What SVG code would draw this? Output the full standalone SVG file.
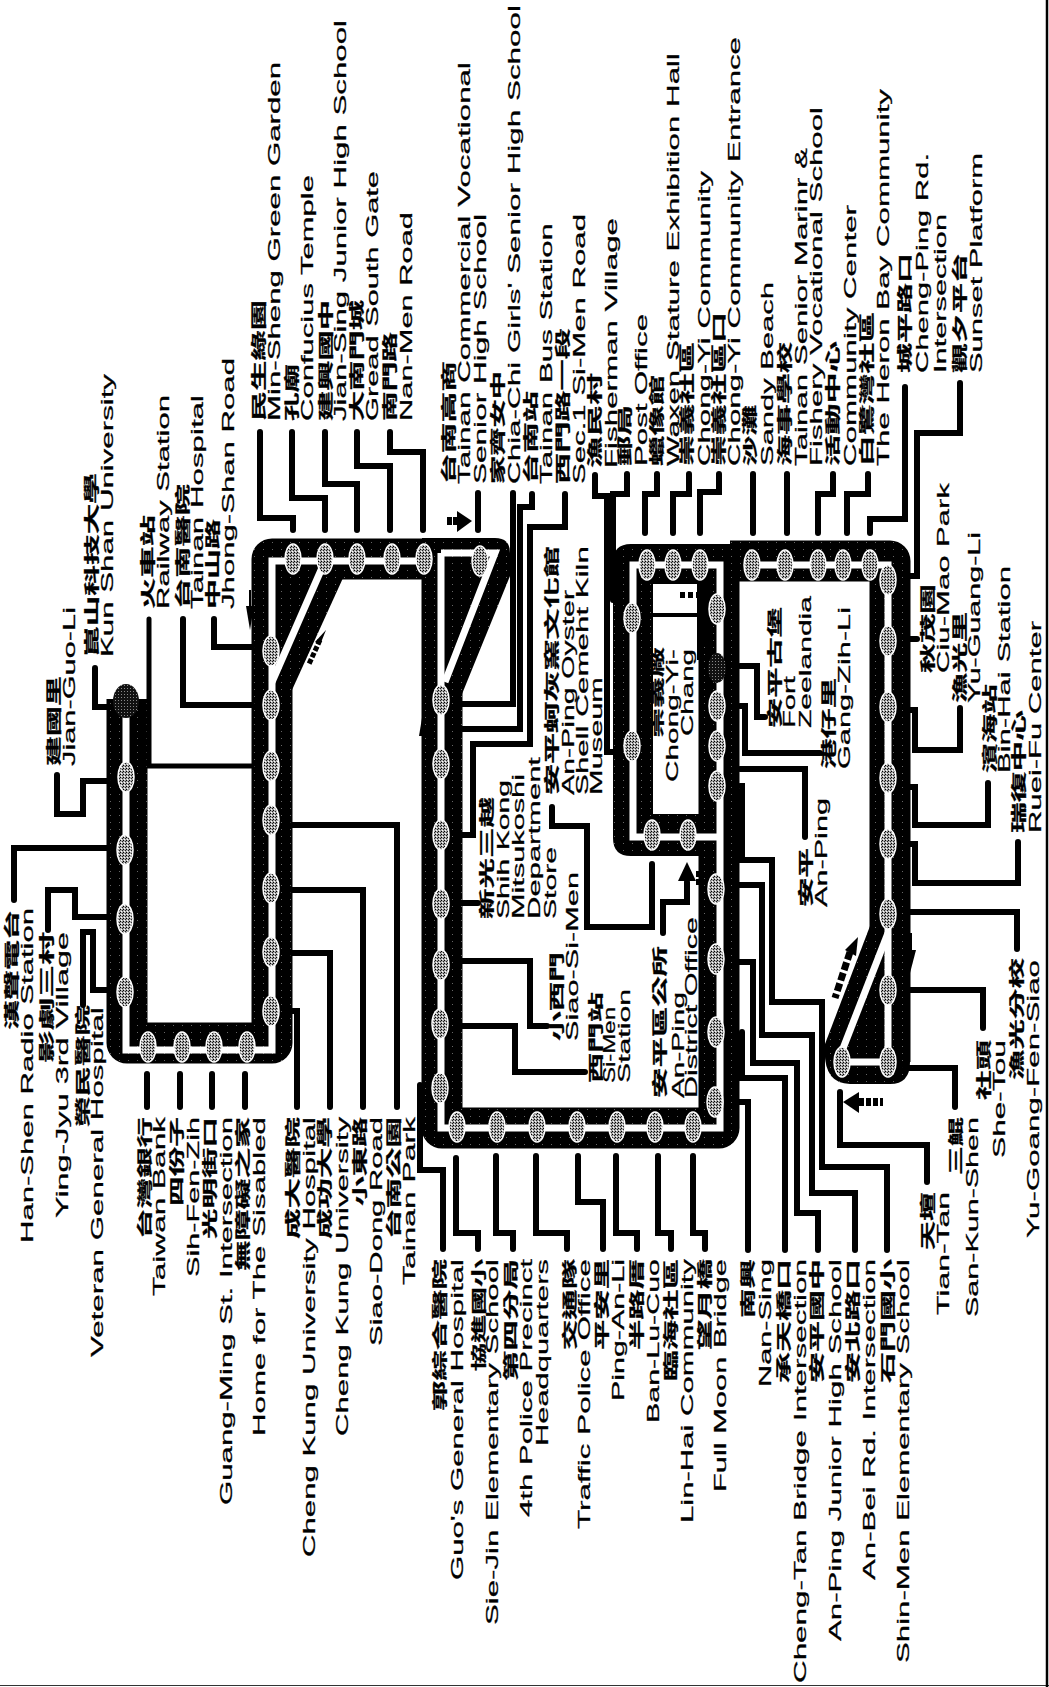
<svg xmlns="http://www.w3.org/2000/svg" width="1049" height="1687" viewBox="0 0 1049 1687">
<style>
text{fill:#000;stroke:#000;stroke-width:.25}
.e{font-family:"Liberation Sans",Arial,sans-serif;font-size:17px}
.c{font-family:"Noto Sans CJK TC","Noto Sans CJK SC",sans-serif;font-size:15px;font-weight:700}
.b{fill:none;stroke:url(#band);stroke-width:41;stroke-linejoin:round}
.f{fill:url(#band)}
.w{fill:none;stroke:#fff;stroke-width:7;stroke-linejoin:miter}
.k{fill:none;stroke:#000;stroke-width:6;stroke-linecap:round;stroke-linejoin:miter}
.t{stroke-width:5}
.s{fill:url(#stip);stroke:#fff;stroke-width:1.5}
.d{fill:url(#dark)}
</style>
<defs>
<pattern id="band" width="9" height="7" patternUnits="userSpaceOnUse"><rect width="9" height="7" fill="#000"/><rect x="2" y="3" width="1" height="1" fill="#666"/></pattern>
<pattern id="stip" width="3" height="3" patternUnits="userSpaceOnUse"><rect width="3" height="3" fill="#aaa"/><rect width="1" height="1" fill="#000"/><rect x="2" y="1" width="1" height="1" fill="#222"/><rect x="1" y="2" width="1" height="1" fill="#fff"/></pattern>
<pattern id="dark" width="3" height="3" patternUnits="userSpaceOnUse"><rect width="3" height="3" fill="#111"/><rect x="1" y="1" width="1" height="1" fill="#888"/></pattern>
</defs>
<g id="frame"><path d="M0,1685.5H1049" stroke="#333" stroke-width="1" fill="none"/><path d="M1047,0V1687" stroke="#000" stroke-width="2.5" fill="none"/></g>

<g id="network">
<path class="b" d="M127,699V1043H272V559H440"/>
<path class="f" d="M272,558H343V578L292,690H272Z"/>
<path class="f" d="M422,538H495Q510,538 510,553V576L462,694H422Z"/>
<path class="b" d="M442,559V1128H719V560"/>
<path class="f" fill-rule="evenodd" d="M631,544H738V856H631Q613,856 613,838V562Q613,544 631,544ZM653,584V814H700V584Z"/>
<path class="b" d="M730,561H890V1062"/>
<path class="f" d="M870,926L825,1044Q822,1084 850,1084H890Q910,1084 910,1062V926Z"/>
</g>
<g id="routes">
<path class="w" d="M126,710V1050H272V561H420"/>
<path class="w" d="M325,561L272,682"/>
<path class="w" d="M441,553V1128H720V565H633V837H720"/>
<path class="w" d="M441,553H495L445,682"/>
<path class="w" d="M745,565H888V1062H842"/>
<path class="w" d="M888,933L842,1051"/>
</g>
<g id="chong-yi-inset"><path d="M653,615H697" stroke="#000" stroke-width="4"/><path d="M697,584H706V640L700,660H697Z" fill="#000"/><path d="M680,592h5v6h-5zM688,592h5v6h-5zM696,592h5v6h-5z" fill="#000"/></g>

<g id="connectors">
<path class="k" d="M57,775V814H83V781H108"/>
<path class="k" d="M95,668V707H108"/>
<path class="k" d="M14,900V848H110"/>
<path class="k" d="M48,930V890H75V917H110"/>
<path class="k" d="M83,1005V932H93V990H108"/>
<path class="k t" d="M149,619V766H252"/>
<path class="k" d="M183,619V705H252"/>
<path class="k" d="M214,619V647H252"/>
<path class="k" d="M260,432V518H293V530"/>
<path class="k" d="M292,432V498H325V530"/>
<path class="k" d="M325,432V484H357V530"/>
<path class="k" d="M357,432V466H390V530"/>
<path class="k" d="M390,432V452H423V530"/>
<path class="k" d="M478,493V530"/>
<path class="k" d="M513,493V704H462"/>
<path class="k" d="M532,494V507H520V729H462"/>
<path class="k" d="M565,494V527H530V744H473V835H462"/>
<path class="k" d="M595,475V496H607V752H613"/>
<path class="k" d="M627,474V494H613V600"/>
<path class="k" d="M657,474V494H645V533"/>
<path class="k" d="M689,474V494H673V533"/>
<path class="k" d="M719,474V492H700V533"/>
<path class="k" d="M753,474V533"/>
<path class="k" d="M787,474V533"/>
<path class="k" d="M833,474V494H818V533"/>
<path class="k" d="M868,474V494H847V533"/>
<path class="k" d="M905,387V519H870V533"/>
<path class="k" d="M960,383V433H917V576H910"/>
<path class="k" d="M910,639H917"/>
<path class="k" d="M960,708V750H915V710H910"/>
<path class="k" d="M988,783V825H915V787H910"/>
<path class="k" d="M1018,842V883H915V844H910"/>
<path class="k" d="M1017,949V912H910"/>
<path class="k" d="M983,1028V990H910"/>
<path class="k" d="M955,1107V1068H905"/>
<path class="k" d="M927,1182V1145H840V1092"/>
<path class="k" d="M740,786H742V860H772V1002H822V1167H887V1250"/>
<path class="k" d="M738,885H762V1035H812V1193H855V1250"/>
<path class="k" d="M738,962H753V1063H797V1213H818V1250"/>
<path class="k" d="M742,1032V1078H785V1250"/>
<path class="k" d="M738,1102H748V1250"/>
<path class="k" d="M740,666H757V717H765"/>
<path class="k" d="M740,706H745V753H820"/>
<path class="k" d="M740,769H805V837"/>
<path class="k" d="M693,1156V1233H705V1249"/>
<path class="k" d="M658,1156V1233H671V1249"/>
<path class="k" d="M616,1156V1233H637V1249"/>
<path class="k" d="M578,1156V1202H603V1249"/>
<path class="k" d="M536,1156V1233H567V1249"/>
<path class="k" d="M496,1156V1233H513V1249"/>
<path class="k" d="M456,1158V1233H478V1249"/>
<path class="k" d="M420,1085V1170H443V1249"/>
<path class="k" d="M292,825H397V1107"/>
<path class="k" d="M292,890H363V1107"/>
<path class="k" d="M292,953H330V1107"/>
<path class="k" d="M292,1011H297V1107"/>
<path class="k" d="M147,1074V1107"/>
<path class="k" d="M180,1074V1107"/>
<path class="k" d="M212,1074V1107"/>
<path class="k" d="M245,1074V1107"/>
<path class="k" d="M462,903H478"/>
<path class="k" d="M552,807V826H587V927H652V864"/>
<path class="k" d="M462,961H530V1026H547"/>
<path class="k" d="M462,1026H515V1072H585"/>
<path class="k" d="M663,933V902H687V882"/>
</g>

<g id="direction-arrows">
<path d="M457,511L472,521L457,532Z" fill="#000"/><path d="M447,517h5v8h-5zM453,517h5v8h-5z" fill="#000"/>
<path d="M326,630L315,642L320,645Z" fill="#000"/><path d="M320,640L309,664" stroke="#000" stroke-width="5" stroke-dasharray="5 2" fill="none"/>
<path d="M250,630L246,606L254,606Z" fill="#000"/><path d="M250,590V610" stroke="#000" stroke-width="2"/>
<path d="M423,712L419,736H427Z" fill="#000"/><path d="M423,730V770" stroke="#000" stroke-width="2"/>
<path d="M687,862L678,881H696Z" fill="#000"/><path d="M698,871v6M698,879v6" stroke="#000" stroke-width="4"/>
<path d="M858,937L845,950L856,956Z" fill="#000"/><path d="M850,952L835,998" stroke="#000" stroke-width="7" stroke-dasharray="8 3" fill="none"/>
<path d="M843,1102L859,1092V1113Z" fill="#000"/><path d="M859,1102H883" stroke="#000" stroke-width="8" stroke-dasharray="5 2" fill="none"/>
<path d="M910,973L906,950H916Z" fill="#000"/><path d="M911,933V955" stroke="#000" stroke-width="2"/>
</g>

<g id="stops-loop1">
<ellipse class="d" cx="126" cy="701" rx="13" ry="17"/>
<ellipse class="s" cx="126" cy="777" rx="8" ry="15"/><ellipse class="s" cx="125" cy="850" rx="8" ry="15"/><ellipse class="s" cx="125" cy="919" rx="8" ry="15"/><ellipse class="s" cx="125" cy="992" rx="8" ry="15"/>
<ellipse class="s" cx="148" cy="1047" rx="8" ry="15"/><ellipse class="s" cx="182" cy="1047" rx="8" ry="15"/><ellipse class="s" cx="214" cy="1047" rx="8" ry="15"/><ellipse class="s" cx="247" cy="1047" rx="8" ry="15"/>
<ellipse class="s" cx="271" cy="1011" rx="8" ry="15"/><ellipse class="s" cx="271" cy="952" rx="8" ry="15"/><ellipse class="s" cx="271" cy="888" rx="8" ry="15"/><ellipse class="s" cx="271" cy="820" rx="8" ry="15"/><ellipse class="s" cx="271" cy="766" rx="8" ry="15"/><ellipse class="s" cx="271" cy="705" rx="8" ry="15"/><ellipse class="s" cx="271" cy="651" rx="8" ry="15"/>
<ellipse class="s" cx="293" cy="559" rx="8" ry="15"/><ellipse class="s" cx="325" cy="559" rx="8" ry="15"/><ellipse class="s" cx="357" cy="559" rx="8" ry="15"/><ellipse class="s" cx="392" cy="559" rx="8" ry="15"/><ellipse class="s" cx="424" cy="559" rx="8" ry="15"/>
</g>
<g id="stops-loop2">
<ellipse class="s" cx="480" cy="561" rx="8" ry="15"/>
<ellipse class="s" cx="441" cy="700" rx="8" ry="15"/><ellipse class="s" cx="441" cy="764" rx="8" ry="15"/><ellipse class="s" cx="441" cy="835" rx="8" ry="15"/><ellipse class="s" cx="441" cy="904" rx="8" ry="15"/><ellipse class="s" cx="441" cy="965" rx="8" ry="15"/><ellipse class="s" cx="440" cy="1024" rx="8" ry="15"/><ellipse class="s" cx="440" cy="1088" rx="8" ry="15"/>
<ellipse class="s" cx="457" cy="1127" rx="8" ry="15"/><ellipse class="s" cx="497" cy="1127" rx="8" ry="15"/><ellipse class="s" cx="537" cy="1127" rx="8" ry="15"/><ellipse class="s" cx="577" cy="1127" rx="8" ry="15"/><ellipse class="s" cx="617" cy="1127" rx="8" ry="15"/><ellipse class="s" cx="655" cy="1127" rx="8" ry="15"/><ellipse class="s" cx="693" cy="1127" rx="8" ry="15"/>
<ellipse class="s" cx="715" cy="1102" rx="8" ry="15"/><ellipse class="s" cx="716" cy="1032" rx="8" ry="15"/><ellipse class="s" cx="716" cy="959" rx="8" ry="15"/><ellipse class="s" cx="716" cy="889" rx="8" ry="15"/>
</g>
<g id="stops-chong-yi">
<ellipse class="s" cx="632" cy="618" rx="8" ry="15"/><ellipse class="s" cx="632" cy="746" rx="8" ry="15"/>
<ellipse class="s" cx="647" cy="565" rx="8" ry="15"/><ellipse class="s" cx="673" cy="565" rx="8" ry="15"/><ellipse class="s" cx="700" cy="565" rx="8" ry="15"/>
<ellipse class="s" cx="652" cy="835" rx="8" ry="15"/><ellipse class="s" cx="688" cy="835" rx="8" ry="15"/>
<ellipse class="s" cx="717" cy="609" rx="8" ry="15"/><ellipse class="d" cx="717" cy="668" rx="9" ry="15"/><ellipse class="s" cx="717" cy="706" rx="8" ry="15"/><ellipse class="s" cx="717" cy="746" rx="8" ry="15"/><ellipse class="s" cx="717" cy="786" rx="8" ry="15"/>
</g>
<g id="stops-an-ping">
<ellipse class="s" cx="752" cy="565" rx="8" ry="15"/><ellipse class="s" cx="785" cy="565" rx="8" ry="15"/><ellipse class="s" cx="818" cy="565" rx="8" ry="15"/><ellipse class="s" cx="843" cy="565" rx="8" ry="15"/><ellipse class="s" cx="870" cy="565" rx="8" ry="15"/>
<ellipse class="s" cx="888" cy="580" rx="8" ry="15"/><ellipse class="s" cx="888" cy="641" rx="8" ry="15"/><ellipse class="s" cx="888" cy="707" rx="8" ry="15"/><ellipse class="s" cx="888" cy="778" rx="8" ry="15"/><ellipse class="s" cx="888" cy="844" rx="8" ry="15"/><ellipse class="s" cx="888" cy="914" rx="8" ry="15"/><ellipse class="s" cx="888" cy="990" rx="8" ry="15"/><ellipse class="s" cx="888" cy="1062" rx="8" ry="15"/><ellipse class="s" cx="842" cy="1062" rx="8" ry="15"/>
</g>

<g id="labels-top">
<text class="c" transform="translate(264 421) rotate(-90)" textLength="121" lengthAdjust="spacingAndGlyphs">民生綠園</text>
<text class="e" transform="translate(280 421) rotate(-90)" textLength="359" lengthAdjust="spacingAndGlyphs">Min-Sheng Green Garden</text>
<text class="c" transform="translate(297 421) rotate(-90)" textLength="57" lengthAdjust="spacingAndGlyphs">孔廟</text>
<text class="e" transform="translate(313 421) rotate(-90)" textLength="246" lengthAdjust="spacingAndGlyphs">Confucius Temple</text>
<text class="c" transform="translate(331 421) rotate(-90)" textLength="121" lengthAdjust="spacingAndGlyphs">建興國中</text>
<text class="e" transform="translate(346 421) rotate(-90)" textLength="401" lengthAdjust="spacingAndGlyphs">Jian-Sing Junior High School</text>
<text class="c" transform="translate(362 421) rotate(-90)" textLength="121" lengthAdjust="spacingAndGlyphs">大南門城</text>
<text class="e" transform="translate(378 421) rotate(-90)" textLength="250" lengthAdjust="spacingAndGlyphs">Gread South Gate</text>
<text class="c" transform="translate(395 421) rotate(-90)" textLength="89" lengthAdjust="spacingAndGlyphs">南門路</text>
<text class="e" transform="translate(412 421) rotate(-90)" textLength="209" lengthAdjust="spacingAndGlyphs">Nan-Men Road</text>
<text class="c" transform="translate(454 484) rotate(-90)" textLength="123" lengthAdjust="spacingAndGlyphs">台南高商</text>
<text class="e" transform="translate(470 484) rotate(-90)" textLength="422" lengthAdjust="spacingAndGlyphs">Tainan Commercial Vocational</text>
<text class="e" transform="translate(486 484) rotate(-90)" textLength="270" lengthAdjust="spacingAndGlyphs">Senior High School</text>
<text class="c" transform="translate(503 484) rotate(-90)" textLength="113" lengthAdjust="spacingAndGlyphs">家齊女中</text>
<text class="e" transform="translate(520 484) rotate(-90)" textLength="479" lengthAdjust="spacingAndGlyphs">Chia-Chi Girls' Senior High School</text>
<text class="c" transform="translate(536 484) rotate(-90)" textLength="93" lengthAdjust="spacingAndGlyphs">台南站</text>
<text class="e" transform="translate(552 484) rotate(-90)" textLength="261" lengthAdjust="spacingAndGlyphs">Tainan Bus Station</text>
<text class="c" transform="translate(568 484) rotate(-90)" textLength="156" lengthAdjust="spacingAndGlyphs">西門路一段</text>
<text class="e" transform="translate(585 484) rotate(-90)" textLength="270" lengthAdjust="spacingAndGlyphs">Sec.1 Si-Men Road</text>
<text class="c" transform="translate(600 468) rotate(-90)" textLength="95" lengthAdjust="spacingAndGlyphs">漁民村</text>
<text class="e" transform="translate(617 468) rotate(-90)" textLength="250" lengthAdjust="spacingAndGlyphs">Fisherman Village</text>
<text class="c" transform="translate(630 466) rotate(-90)" textLength="61" lengthAdjust="spacingAndGlyphs">郵局</text>
<text class="e" transform="translate(647 466) rotate(-90)" textLength="152" lengthAdjust="spacingAndGlyphs">Post Office</text>
<text class="c" transform="translate(662 466) rotate(-90)" textLength="91" lengthAdjust="spacingAndGlyphs">蠟像館</text>
<text class="e" transform="translate(679 466) rotate(-90)" textLength="413" lengthAdjust="spacingAndGlyphs">Waxen Stature Exhibition Hall</text>
<text class="c" transform="translate(692 466) rotate(-90)" textLength="124" lengthAdjust="spacingAndGlyphs">崇義社區</text>
<text class="e" transform="translate(710 466) rotate(-90)" textLength="295" lengthAdjust="spacingAndGlyphs">Chong-Yi Community</text>
<text class="c" transform="translate(724 466) rotate(-90)" textLength="154" lengthAdjust="spacingAndGlyphs">崇義社區口</text>
<text class="e" transform="translate(740 466) rotate(-90)" textLength="429" lengthAdjust="spacingAndGlyphs">Chong-Yi Community Entrance</text>
<text class="c" transform="translate(755 466) rotate(-90)" textLength="61" lengthAdjust="spacingAndGlyphs">沙灘</text>
<text class="e" transform="translate(773 466) rotate(-90)" textLength="184" lengthAdjust="spacingAndGlyphs">Sandy Beach</text>
<text class="c" transform="translate(790 466) rotate(-90)" textLength="124" lengthAdjust="spacingAndGlyphs">海事學校</text>
<text class="e" transform="translate(807 466) rotate(-90)" textLength="318" lengthAdjust="spacingAndGlyphs">Tainan Senior Marinr &amp;</text>
<text class="e" transform="translate(822 466) rotate(-90)" textLength="359" lengthAdjust="spacingAndGlyphs">Fishery Vocational School</text>
<text class="c" transform="translate(838 466) rotate(-90)" textLength="125" lengthAdjust="spacingAndGlyphs">活動中心</text>
<text class="e" transform="translate(856 466) rotate(-90)" textLength="261" lengthAdjust="spacingAndGlyphs">Community Center</text>
<text class="c" transform="translate(872 466) rotate(-90)" textLength="154" lengthAdjust="spacingAndGlyphs">白鷺灣社區</text>
<text class="e" transform="translate(889 466) rotate(-90)" textLength="377" lengthAdjust="spacingAndGlyphs">The Heron Bay Community</text>
<text class="c" transform="translate(910 373) rotate(-90)" textLength="120" lengthAdjust="spacingAndGlyphs">城平路口</text>
<text class="e" transform="translate(928 373) rotate(-90)" textLength="220" lengthAdjust="spacingAndGlyphs">Cheng-Ping Rd.</text>
<text class="e" transform="translate(946 373) rotate(-90)" textLength="159" lengthAdjust="spacingAndGlyphs">Intersection</text>
<text class="c" transform="translate(965 373) rotate(-90)" textLength="120" lengthAdjust="spacingAndGlyphs">觀夕平台</text>
<text class="e" transform="translate(982 373) rotate(-90)" textLength="220" lengthAdjust="spacingAndGlyphs">Sunset Platform</text>
</g>
<g id="labels-upper-left">
<text class="c" transform="translate(153 609) rotate(-90)" textLength="94" lengthAdjust="spacingAndGlyphs">火車站</text>
<text class="e" transform="translate(169 609) rotate(-90)" textLength="214" lengthAdjust="spacingAndGlyphs">Railway Station</text>
<text class="c" transform="translate(188 609) rotate(-90)" textLength="125" lengthAdjust="spacingAndGlyphs">台南醫院</text>
<text class="e" transform="translate(203 609) rotate(-90)" textLength="214" lengthAdjust="spacingAndGlyphs">Tainan Hospital</text>
<text class="c" transform="translate(218 609) rotate(-90)" textLength="90" lengthAdjust="spacingAndGlyphs">中山路</text>
<text class="e" transform="translate(234 609) rotate(-90)" textLength="251" lengthAdjust="spacingAndGlyphs">Jhong-Shan Road</text>
<text class="c" transform="translate(97 657) rotate(-90)" textLength="184" lengthAdjust="spacingAndGlyphs">崑山科技大學</text>
<text class="e" transform="translate(113 657) rotate(-90)" textLength="283" lengthAdjust="spacingAndGlyphs">Kun Shan University</text>
<text class="c" transform="translate(59 766) rotate(-90)" textLength="90" lengthAdjust="spacingAndGlyphs">建國里</text>
<text class="e" transform="translate(75 766) rotate(-90)" textLength="159" lengthAdjust="spacingAndGlyphs">Jian-Guo-Li</text>
<text class="c" transform="translate(17 1030) rotate(-90)" textLength="120" lengthAdjust="spacingAndGlyphs">漢聲電台</text>
<text class="e" transform="translate(33 1243) rotate(-90)" textLength="335" lengthAdjust="spacingAndGlyphs">Han-Shen Radio Station</text>
<text class="c" transform="translate(52 1063) rotate(-90)" textLength="131" lengthAdjust="spacingAndGlyphs">影劇三村</text>
<text class="e" transform="translate(68 1218) rotate(-90)" textLength="286" lengthAdjust="spacingAndGlyphs">Ying-Jyu 3rd Village</text>
<text class="c" transform="translate(88 1127) rotate(-90)" textLength="122" lengthAdjust="spacingAndGlyphs">榮民醫院</text>
<text class="e" transform="translate(103 1357) rotate(-90)" textLength="350" lengthAdjust="spacingAndGlyphs">Veteran General Hospital</text>
</g>
<g id="labels-bottom">
<text class="c" transform="translate(150 1239) rotate(-90)" textLength="122" lengthAdjust="spacingAndGlyphs">台灣銀行</text>
<text class="e" transform="translate(165 1296) rotate(-90)" textLength="179" lengthAdjust="spacingAndGlyphs">Taiwan Bank</text>
<text class="c" transform="translate(182 1206) rotate(-90)" textLength="89" lengthAdjust="spacingAndGlyphs">四份子</text>
<text class="e" transform="translate(199 1277) rotate(-90)" textLength="160" lengthAdjust="spacingAndGlyphs">Sih-Fen-Zih</text>
<text class="c" transform="translate(215 1239) rotate(-90)" textLength="122" lengthAdjust="spacingAndGlyphs">光明街口</text>
<text class="e" transform="translate(232 1505) rotate(-90)" textLength="388" lengthAdjust="spacingAndGlyphs">Guang-Ming St. Intersection</text>
<text class="c" transform="translate(248 1271) rotate(-90)" textLength="154" lengthAdjust="spacingAndGlyphs">無障礙之家</text>
<text class="e" transform="translate(265 1436) rotate(-90)" textLength="319" lengthAdjust="spacingAndGlyphs">Home for The Sisabled</text>
<text class="c" transform="translate(298 1239) rotate(-90)" textLength="122" lengthAdjust="spacingAndGlyphs">成大醫院</text>
<text class="e" transform="translate(315 1557) rotate(-90)" textLength="440" lengthAdjust="spacingAndGlyphs">Cheng Kung University Hospital</text>
<text class="c" transform="translate(330 1239) rotate(-90)" textLength="122" lengthAdjust="spacingAndGlyphs">成功大學</text>
<text class="e" transform="translate(348 1436) rotate(-90)" textLength="319" lengthAdjust="spacingAndGlyphs">Cheng Kung University</text>
<text class="c" transform="translate(365 1206) rotate(-90)" textLength="89" lengthAdjust="spacingAndGlyphs">小東路</text>
<text class="e" transform="translate(382 1346) rotate(-90)" textLength="229" lengthAdjust="spacingAndGlyphs">Siao-Dong Road</text>
<text class="c" transform="translate(399 1239) rotate(-90)" textLength="122" lengthAdjust="spacingAndGlyphs">台南公園</text>
<text class="e" transform="translate(415 1285) rotate(-90)" textLength="168" lengthAdjust="spacingAndGlyphs">Tainan Park</text>
<text class="c" transform="translate(445 1411) rotate(-90)" textLength="152" lengthAdjust="spacingAndGlyphs">郭綜合醫院</text>
<text class="e" transform="translate(463 1580) rotate(-90)" textLength="321" lengthAdjust="spacingAndGlyphs">Guo's General Hospital</text>
<text class="c" transform="translate(484 1371) rotate(-90)" textLength="112" lengthAdjust="spacingAndGlyphs">協進國小</text>
<text class="e" transform="translate(498 1625) rotate(-90)" textLength="366" lengthAdjust="spacingAndGlyphs">Sie-Jin Elementary School</text>
<text class="c" transform="translate(516 1381) rotate(-90)" textLength="122" lengthAdjust="spacingAndGlyphs">第四分局</text>
<text class="e" transform="translate(532 1517) rotate(-90)" textLength="258" lengthAdjust="spacingAndGlyphs">4th Police Precinct</text>
<text class="e" transform="translate(548 1446) rotate(-90)" textLength="187" lengthAdjust="spacingAndGlyphs">Headquarters</text>
<text class="c" transform="translate(575 1350) rotate(-90)" textLength="91" lengthAdjust="spacingAndGlyphs">交通隊</text>
<text class="e" transform="translate(590 1529) rotate(-90)" textLength="270" lengthAdjust="spacingAndGlyphs">Traffic Police Office</text>
<text class="c" transform="translate(607 1350) rotate(-90)" textLength="91" lengthAdjust="spacingAndGlyphs">平安里</text>
<text class="e" transform="translate(624 1401) rotate(-90)" textLength="142" lengthAdjust="spacingAndGlyphs">Ping-An-Li</text>
<text class="c" transform="translate(642 1350) rotate(-90)" textLength="91" lengthAdjust="spacingAndGlyphs">半路厝</text>
<text class="e" transform="translate(659 1423) rotate(-90)" textLength="164" lengthAdjust="spacingAndGlyphs">Ban-Lu-Cuo</text>
<text class="c" transform="translate(676 1381) rotate(-90)" textLength="122" lengthAdjust="spacingAndGlyphs">臨海社區</text>
<text class="e" transform="translate(693 1523) rotate(-90)" textLength="264" lengthAdjust="spacingAndGlyphs">Lin-Hai Community</text>
<text class="c" transform="translate(710 1350) rotate(-90)" textLength="91" lengthAdjust="spacingAndGlyphs">望月橋</text>
<text class="e" transform="translate(726 1492) rotate(-90)" textLength="233" lengthAdjust="spacingAndGlyphs">Full Moon Bridge</text>
<text class="c" transform="translate(753 1318) rotate(-90)" textLength="59" lengthAdjust="spacingAndGlyphs">南興</text>
<text class="e" transform="translate(771 1387) rotate(-90)" textLength="128" lengthAdjust="spacingAndGlyphs">Nan-Sing</text>
<text class="c" transform="translate(789 1383) rotate(-90)" textLength="124" lengthAdjust="spacingAndGlyphs">承天橋口</text>
<text class="e" transform="translate(806 1683) rotate(-90)" textLength="424" lengthAdjust="spacingAndGlyphs">Cheng-Tan Bridge Intersection</text>
<text class="c" transform="translate(822 1383) rotate(-90)" textLength="124" lengthAdjust="spacingAndGlyphs">安平國中</text>
<text class="e" transform="translate(841 1641) rotate(-90)" textLength="382" lengthAdjust="spacingAndGlyphs">An-Ping Junior High School</text>
<text class="c" transform="translate(858 1383) rotate(-90)" textLength="124" lengthAdjust="spacingAndGlyphs">安北路口</text>
<text class="e" transform="translate(875 1580) rotate(-90)" textLength="321" lengthAdjust="spacingAndGlyphs">An-Bei Rd. Intersection</text>
<text class="c" transform="translate(893 1383) rotate(-90)" textLength="124" lengthAdjust="spacingAndGlyphs">石門國小</text>
<text class="e" transform="translate(909 1663) rotate(-90)" textLength="404" lengthAdjust="spacingAndGlyphs">Shin-Men Elementary School</text>
<text class="c" transform="translate(933 1250) rotate(-90)" textLength="58" lengthAdjust="spacingAndGlyphs">天壇</text>
<text class="e" transform="translate(949 1315) rotate(-90)" textLength="123" lengthAdjust="spacingAndGlyphs">Tian-Tan</text>
<text class="c" transform="translate(961 1175) rotate(-90)" textLength="58" lengthAdjust="spacingAndGlyphs">三鯤</text>
<text class="e" transform="translate(978 1317) rotate(-90)" textLength="200" lengthAdjust="spacingAndGlyphs">San-Kun-Shen</text>
<text class="c" transform="translate(989 1100) rotate(-90)" textLength="60" lengthAdjust="spacingAndGlyphs">社頭</text>
<text class="e" transform="translate(1005 1158) rotate(-90)" textLength="118" lengthAdjust="spacingAndGlyphs">She-Tou</text>
<text class="c" transform="translate(1022 1080) rotate(-90)" textLength="122" lengthAdjust="spacingAndGlyphs">漁光分校</text>
<text class="e" transform="translate(1039 1238) rotate(-90)" textLength="278" lengthAdjust="spacingAndGlyphs">Yu-Goang-Fen-Siao</text>
</g>
<g id="labels-east">
<text class="c" transform="translate(933 673) rotate(-90)" textLength="89" lengthAdjust="spacingAndGlyphs">秋茂園</text>
<text class="e" transform="translate(949 673) rotate(-90)" textLength="190" lengthAdjust="spacingAndGlyphs">Ciu-Mao Park</text>
<text class="c" transform="translate(965 703) rotate(-90)" textLength="91" lengthAdjust="spacingAndGlyphs">漁光里</text>
<text class="e" transform="translate(980 703) rotate(-90)" textLength="171" lengthAdjust="spacingAndGlyphs">Yu-Guang-Li</text>
<text class="c" transform="translate(995 773) rotate(-90)" textLength="89" lengthAdjust="spacingAndGlyphs">濱海站</text>
<text class="e" transform="translate(1010 773) rotate(-90)" textLength="207" lengthAdjust="spacingAndGlyphs">Bin-Hai Station</text>
<text class="c" transform="translate(1024 833) rotate(-90)" textLength="123" lengthAdjust="spacingAndGlyphs">瑞復中心</text>
<text class="e" transform="translate(1041 833) rotate(-90)" textLength="212" lengthAdjust="spacingAndGlyphs">Ruei-Fu Center</text>
</g>
<g id="labels-inner">
<text class="c" transform="translate(780 728) rotate(-90)" textLength="121" lengthAdjust="spacingAndGlyphs">安平古堡</text>
<text class="e" transform="translate(795 728) rotate(-90)" textLength="52" lengthAdjust="spacingAndGlyphs">Fort</text>
<text class="e" transform="translate(811 728) rotate(-90)" textLength="132" lengthAdjust="spacingAndGlyphs">Zeelandia</text>
<text class="c" transform="translate(834 769) rotate(-90)" textLength="91" lengthAdjust="spacingAndGlyphs">港仔里</text>
<text class="e" transform="translate(850 769) rotate(-90)" textLength="162" lengthAdjust="spacingAndGlyphs">Gang-Zih-Li</text>
<text class="c" transform="translate(811 907) rotate(-90)" textLength="59" lengthAdjust="spacingAndGlyphs">安平</text>
<text class="e" transform="translate(827 907) rotate(-90)" textLength="109" lengthAdjust="spacingAndGlyphs">An-Ping</text>
<text class="c" transform="translate(557 795) rotate(-90)" textLength="249" lengthAdjust="spacingAndGlyphs">安平蚵灰窯文化館</text>
<text class="e" transform="translate(574 795) rotate(-90)" textLength="205" lengthAdjust="spacingAndGlyphs">An-Ping Oyster</text>
<text class="e" transform="translate(588 795) rotate(-90)" textLength="249" lengthAdjust="spacingAndGlyphs">Shell Cemeht Kiln</text>
<text class="e" transform="translate(602 795) rotate(-90)" textLength="118" lengthAdjust="spacingAndGlyphs">Museum</text>
<text class="c" transform="translate(492 919) rotate(-90)" textLength="122" lengthAdjust="spacingAndGlyphs">新光三越</text>
<text class="e" transform="translate(509 919) rotate(-90)" textLength="139" lengthAdjust="spacingAndGlyphs">Shih Kong</text>
<text class="e" transform="translate(524 919) rotate(-90)" textLength="145" lengthAdjust="spacingAndGlyphs">Mitsukoshi</text>
<text class="e" transform="translate(540 919) rotate(-90)" textLength="162" lengthAdjust="spacingAndGlyphs">Department</text>
<text class="e" transform="translate(556 919) rotate(-90)" textLength="72" lengthAdjust="spacingAndGlyphs">Store</text>
<text class="c" transform="translate(562 1041) rotate(-90)" textLength="89" lengthAdjust="spacingAndGlyphs">小西門</text>
<text class="e" transform="translate(578 1041) rotate(-90)" textLength="169" lengthAdjust="spacingAndGlyphs">Siao-Si-Men</text>
<text class="c" transform="translate(601 1083) rotate(-90)" textLength="91" lengthAdjust="spacingAndGlyphs">西門站</text>
<text class="e" transform="translate(615 1083) rotate(-90)" textLength="76" lengthAdjust="spacingAndGlyphs">Si-Men</text>
<text class="e" transform="translate(630 1083) rotate(-90)" textLength="94" lengthAdjust="spacingAndGlyphs">Station</text>
<text class="c" transform="translate(665 1098) rotate(-90)" textLength="152" lengthAdjust="spacingAndGlyphs">安平區公所</text>
<text class="e" transform="translate(684 1098) rotate(-90)" textLength="106" lengthAdjust="spacingAndGlyphs">An-Ping</text>
<text class="e" transform="translate(697 1098) rotate(-90)" textLength="181" lengthAdjust="spacingAndGlyphs">District Office</text>
<text class="c" transform="translate(662 738) rotate(-90)" textLength="91" lengthAdjust="spacingAndGlyphs">崇義廠</text>
<text class="e" transform="translate(678 782) rotate(-90)" textLength="133" lengthAdjust="spacingAndGlyphs">Chong-Yi-</text>
<text class="e" transform="translate(693 736) rotate(-90)" textLength="87" lengthAdjust="spacingAndGlyphs">Chang</text>
</g>
</svg>
